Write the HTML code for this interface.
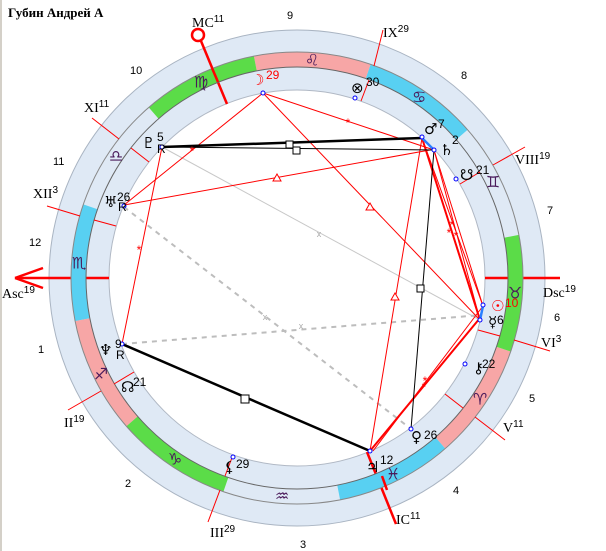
<!DOCTYPE html>
<html><head><meta charset="utf-8"><style>
html,body{margin:0;padding:0;background:#fff;width:606px;height:551px;overflow:hidden;}
svg{display:block;}
.hl{stroke:#f00;stroke-width:1;}
.lab{font-family:"Liberation Serif",serif;font-size:14px;fill:#000;}
.sup{font-family:"Liberation Sans",sans-serif;font-size:10px;}
.num{font-family:"Liberation Sans",sans-serif;font-size:11px;fill:#000;}
.pl{font-family:"DejaVu Sans",sans-serif;font-size:15px;fill:#000;}
.pn{font-family:"Liberation Sans",sans-serif;font-size:12px;fill:#000;}
.zs{font-family:"DejaVu Sans",sans-serif;font-size:16px;fill:#4a1a5a;text-anchor:middle;dominant-baseline:central;}
</style></head><body>
<svg width="606" height="551" viewBox="0 0 606 551" xmlns="http://www.w3.org/2000/svg">
<rect x="0" y="0" width="606" height="551" fill="#fff"/>
<rect x="0" y="0" width="2" height="551" fill="#d4d0c8"/>
<text x="8" y="17" font-family="Liberation Serif,serif" font-size="13" font-weight="bold">Губин Андрей А</text>

<circle cx="297" cy="278" r="218" fill="none" stroke="#dfe9f5" stroke-width="60"/>
<circle cx="297" cy="278" r="248" fill="none" stroke="#a9b4c2" stroke-width="1"/>
<circle cx="297" cy="278" r="188" fill="none" stroke="#b0b8c4" stroke-width="1"/>

<g stroke="#f00" stroke-width="2.5" fill="none">
<line x1="15" y1="278" x2="109" y2="278"/>
<line x1="15" y1="278" x2="43" y2="268"/>
<line x1="15" y1="278" x2="43" y2="288"/>
<line x1="485" y1="278" x2="560" y2="278"/>
<line x1="227" y1="104" x2="201" y2="41"/>
<circle cx="198" cy="35" r="6"/>
<line x1="367" y1="452" x2="396" y2="524"/>
</g>

<g fill="none" stroke-width="15">
<circle cx="297" cy="278" r="218.5" stroke="#f7a6a6" stroke-dasharray="114.4 2000" transform="rotate(19 297 278)"/>
<circle cx="297" cy="278" r="218.5" stroke="#5bdc48" stroke-dasharray="114.4 2000" transform="rotate(-11 297 278)"/>
<circle cx="297" cy="278" r="218.5" stroke="#58d0f2" stroke-dasharray="114.4 2000" transform="rotate(-71 297 278)"/>
<circle cx="297" cy="278" r="218.5" stroke="#f7a6a6" stroke-dasharray="114.4 2000" transform="rotate(-101 297 278)"/>
<circle cx="297" cy="278" r="218.5" stroke="#5bdc48" stroke-dasharray="114.4 2000" transform="rotate(-131 297 278)"/>
<circle cx="297" cy="278" r="218.5" stroke="#58d0f2" stroke-dasharray="114.4 2000" transform="rotate(-191 297 278)"/>
<circle cx="297" cy="278" r="218.5" stroke="#f7a6a6" stroke-dasharray="114.4 2000" transform="rotate(-221 297 278)"/>
<circle cx="297" cy="278" r="218.5" stroke="#5bdc48" stroke-dasharray="114.4 2000" transform="rotate(-251 297 278)"/>
<circle cx="297" cy="278" r="218.5" stroke="#58d0f2" stroke-dasharray="114.4 2000" transform="rotate(-311 297 278)"/>
</g>
<circle cx="297" cy="278" r="226" fill="none" stroke="#888" stroke-width="1"/>
<circle cx="297" cy="278" r="211" fill="none" stroke="#666" stroke-width="1"/>
<g stroke="#f00" stroke-width="2.5">
<line x1="212" y1="68" x2="218" y2="82"/>
<line x1="382" y1="476" x2="387" y2="490"/>
</g>

<text class="zs" x="480" y="399">♈</text>
<text class="zs" x="515" y="293">♉</text>
<text class="zs" x="493" y="182">♊</text>
<text class="zs" x="419" y="97">♋</text>
<text class="zs" x="312" y="60">♌</text>
<text class="zs" x="201" y="82">♍</text>
<text class="zs" x="116" y="156">♎</text>
<text class="zs" x="79" y="263">♏</text>
<text class="zs" x="101" y="374">♐</text>
<text class="zs" x="175" y="459">♑</text>
<text class="zs" x="282" y="496">♒</text>
<text class="zs" x="393" y="474">♓</text>

<g class="hl">
<line x1="119" y1="139" x2="92" y2="118"/><line x1="131" y1="148" x2="149" y2="162"/>
<line x1="80" y1="216" x2="47" y2="206"/><line x1="94" y1="220" x2="116" y2="226"/>
<line x1="101" y1="391" x2="68" y2="410"/><line x1="114" y1="384" x2="134" y2="372"/>
<line x1="220" y1="490" x2="208" y2="522"/><line x1="225" y1="476" x2="233" y2="455"/>
<line x1="475" y1="417" x2="505" y2="440"/><line x1="463" y1="408" x2="445" y2="394"/>
<line x1="514" y1="340" x2="550" y2="351"/><line x1="500" y1="336" x2="478" y2="330"/>
<line x1="493" y1="165" x2="525" y2="147"/><line x1="480" y1="172" x2="460" y2="184"/>
<line x1="374" y1="66" x2="383" y2="30"/><line x1="369" y1="80" x2="361" y2="101"/>
</g>

<text class="lab" x="192" y="27">MC<tspan class="sup" dy="-5">11</tspan></text>
<text class="lab" x="84" y="112">XI<tspan class="sup" dy="-5">11</tspan></text>
<text class="lab" x="33" y="198">XII<tspan class="sup" dy="-5">3</tspan></text>
<text class="lab" x="2" y="298">Asc<tspan class="sup" dy="-5">19</tspan></text>
<text class="lab" x="64" y="427">II<tspan class="sup" dy="-5">19</tspan></text>
<text class="lab" x="210" y="537">III<tspan class="sup" dy="-5">29</tspan></text>
<text class="lab" x="396" y="524">IC<tspan class="sup" dy="-5">11</tspan></text>
<text class="lab" x="503" y="432">V<tspan class="sup" dy="-5">11</tspan></text>
<text class="lab" x="541" y="347">VI<tspan class="sup" dy="-5">3</tspan></text>
<text class="lab" x="543" y="297">Dsc<tspan class="sup" dy="-5">19</tspan></text>
<text class="lab" x="515" y="164">VIII<tspan class="sup" dy="-5">19</tspan></text>
<text class="lab" x="383" y="37">IX<tspan class="sup" dy="-5">29</tspan></text>

<text class="num" x="287" y="19">9</text>
<text class="num" x="130" y="74">10</text>
<text class="num" x="53" y="165">11</text>
<text class="num" x="29" y="246">12</text>
<text class="num" x="38" y="353">1</text>
<text class="num" x="125" y="487">2</text>
<text class="num" x="300" y="548">3</text>
<text class="num" x="453" y="494">4</text>
<text class="num" x="529" y="402">5</text>
<text class="num" x="554" y="321">6</text>
<text class="num" x="547" y="214">7</text>
<text class="num" x="461" y="79">8</text>

<g fill="none">
<line x1="162" y1="147" x2="480" y2="320" stroke="#c8c8c8" stroke-width="1"/>
<line x1="124" y1="207" x2="411" y2="429" stroke="#bdbdbd" stroke-width="2" stroke-dasharray="5,5"/>
<line x1="122" y1="344" x2="482" y2="315" stroke="#bdbdbd" stroke-width="2" stroke-dasharray="5,5"/>
<g stroke="#f00" stroke-width="1">
<line x1="263" y1="93" x2="434" y2="150"/>
<line x1="263" y1="93" x2="124" y2="205"/>
<line x1="263" y1="93" x2="480" y2="320"/>
<line x1="124" y1="205" x2="430" y2="150"/>
<line x1="162" y1="147" x2="122" y2="344"/>
<line x1="370" y1="451" x2="422" y2="138"/>
<line x1="422" y1="138" x2="483" y2="306"/>
<line x1="434" y1="150" x2="483" y2="306"/>
<line x1="434" y1="150" x2="480" y2="320"/>
<line x1="373" y1="451" x2="483" y2="306"/>
</g>
<g stroke="#f00" stroke-width="2">
<line x1="422" y1="138" x2="480" y2="320"/>
<line x1="370" y1="451" x2="480" y2="318"/>
</g>
<line x1="162" y1="147" x2="422" y2="138" stroke="#000" stroke-width="2.5"/>
<line x1="162" y1="147" x2="434" y2="150" stroke="#000" stroke-width="1"/>
<line x1="122" y1="344" x2="370" y2="451" stroke="#000" stroke-width="2.5"/>
<line x1="434" y1="150" x2="411" y2="429" stroke="#000" stroke-width="1"/>
<line x1="422" y1="138" x2="434" y2="150" stroke="#2a7fff" stroke-width="2.5"/>
<line x1="483" y1="306" x2="480" y2="320" stroke="#2a7fff" stroke-width="2.5"/>
</g>
<g fill="#fff" stroke="#000" stroke-width="1">
<rect x="286" y="141" width="7" height="7"/>
<rect x="293" y="147" width="7" height="7"/>
<rect x="241" y="395" width="8" height="8"/>
<rect x="417" y="285" width="7" height="7"/>
</g>
<g fill="#fff" stroke="#f00" stroke-width="1">
<polygon points="370,203 366,210 374,210"/>
<polygon points="277,174 273,181 281,181"/>
<polygon points="395,293 391,300 399,300"/>
</g>
<g font-family="Liberation Sans,sans-serif" font-size="12" fill="#f00" text-anchor="middle">
<text x="348" y="127">*</text><text x="192" y="155">*</text><text x="139" y="254">*</text>
<text x="452" y="229">*</text><text x="449" y="237">*</text><text x="456" y="240">*</text>
<text x="425" y="385">*</text><text x="424" y="391">*</text>
</g>
<g font-family="Liberation Sans,sans-serif" font-size="9" fill="#aaa" text-anchor="middle">
<text x="319" y="237">x</text><text x="265" y="320">x</text><text x="301" y="329">x</text>
</g>

<g fill="#fff" stroke="#0000ff" stroke-width="1">
<circle cx="263" cy="93" r="2"/><circle cx="162" cy="147" r="2"/><circle cx="124" cy="206" r="2"/>
<circle cx="122" cy="344" r="2"/><circle cx="233" cy="457" r="2"/><circle cx="370" cy="451" r="2"/>
<circle cx="411" cy="429" r="2"/><circle cx="465" cy="364" r="2"/><circle cx="480" cy="320" r="2"/>
<circle cx="483" cy="305" r="2"/><circle cx="456" cy="179" r="2"/><circle cx="434" cy="150" r="2"/>
<circle cx="422" cy="137" r="2"/><circle cx="355" cy="98" r="2"/>
</g>

<text class="pl" x="251" y="85" style="fill:#f00">☽</text><text class="pn" x="266" y="79" style="fill:#f00">29</text>
<text class="pl" x="142" y="148">♇</text><text class="pn" x="157" y="141">5</text><text class="pn" x="157" y="153">R</text>
<text class="pl" x="104" y="207">♅</text><text class="pn" x="117" y="201">26</text><text class="pn" x="118" y="211">R</text>
<text class="pl" x="99" y="355">♆</text><text class="pn" x="115" y="348">9</text><text class="pn" x="116" y="359">R</text>
<text class="pl" x="121" y="392">☊</text><text class="pn" x="133" y="386">21</text>
<text class="pl" x="224" y="472">⚸</text><text class="pn" x="236" y="468">29</text>
<text class="pl" x="366" y="472">♃</text><text class="pn" x="380" y="464">12</text>
<text class="pl" x="411" y="442">♀</text><text class="pn" x="424" y="439">26</text>
<text class="pl" x="473" y="373">⚷</text><text class="pn" x="482" y="368">22</text>
<text class="pl" x="488" y="327">☿</text><text class="pn" x="497" y="324">6</text>
<text class="pl" x="491" y="311" style="fill:#f00">☉</text><text class="pn" x="505" y="307" style="fill:#f00">10</text>
<text class="pl" x="460" y="180">☋</text><text class="pn" x="476" y="174">21</text>
<text class="pl" x="440" y="155">♄</text><text class="pn" x="452" y="144">2</text>
<text class="pl" x="424" y="134">♂</text><text class="pn" x="438" y="128">7</text>
<text class="pl" x="351" y="93">⊗</text><text class="pn" x="366" y="86">30</text>
</svg>
</body></html>
